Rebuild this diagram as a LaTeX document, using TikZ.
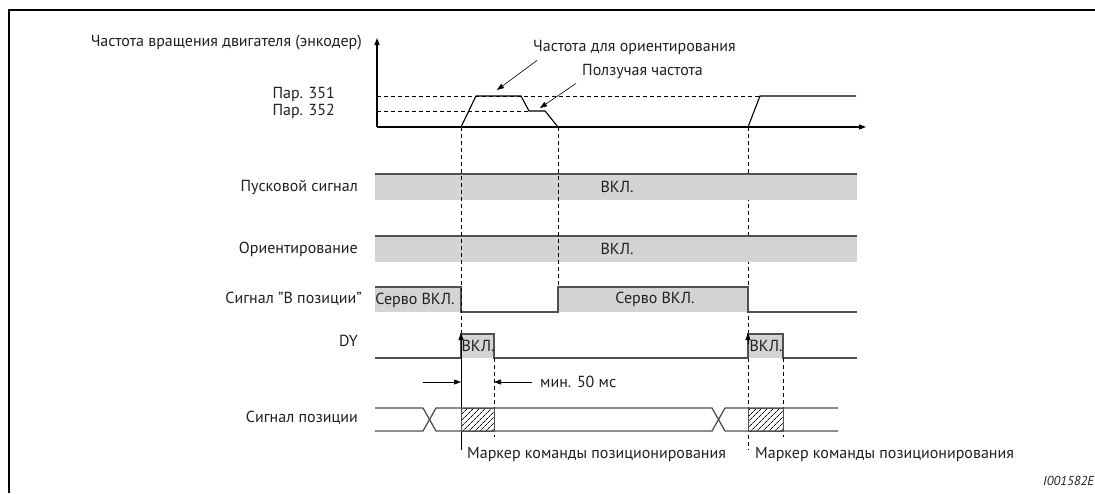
\documentclass[tikz,border=0pt]{standalone}
\usepackage{fontspec}
\setmainfont{PT Sans}
\usetikzlibrary{arrows.meta,patterns.meta,positioning,calc}
\definecolor{barfill}{HTML}{D3D4D5}
\definecolor{sigline}{HTML}{505050}
\definecolor{txt}{HTML}{231F20}

\begin{document}
\begin{tikzpicture}[x=1pt,y=-1pt,font=\fontsize{16}{19}\selectfont,>={Triangle[length=7pt,width=5pt]}]
\tikzset{lab/.style={anchor=east,inner sep=0pt,text=txt}, note/.style={anchor=west,inner sep=0pt,text=txt}, mid/.style={inner sep=0pt,text=txt}, sig/.style={draw=sigline,line width=1.3pt}, curve/.style={draw=black,line width=1.1pt}, guide/.style={line width=0.6pt,dash pattern=on 4pt off 3pt}, hatch/.style={pattern={Lines[angle=45,distance=4pt,line width=0.8pt]}}}
\useasboundingbox (0,0) rectangle (1095,493);
% frame
\draw[line width=2.2pt] (9,493) -- (9,10) -- (1095,10);
% speed axis
\coordinate (o) at (377,127);
\coordinate (ytip) at (377,38);
\coordinate (xtip) at (866,127);
\draw[curve,->] (o) -- (ytip);
\draw[curve,->] (o) -- (xtip);
\node[lab] (ax) at (362,43) {Частота вращения двигателя (энкодер)};
\node[lab] (p351) at (335,94) {Пар. 351};
\node[lab] (p352) at (335,111) {Пар. 352};
\draw[guide] (377,96) -- (760,96);
\draw[guide] (377,111) -- (529,111);
\draw[curve] (461,127) -- (476,96) -- (521,96) -- (529,111) -- (545,111) -- (558,127);
\draw[curve] (748,127) -- (760,96) -- (856,96);
\node[lab] (orient) at (736,47) {Частота для ориентирования};
\node[note] (creep) at (582,72) {Ползучая частота};
\coordinate (top1) at (497,90);
\coordinate (top2) at (540,108);
\draw[line width=0.6pt,->] ($(orient.south west)+(4,6)$) -- (top1);
\draw[line width=0.6pt,->] ($(creep.south west)+(-6,4)$) -- (top2);
% guide hidden behind the bars
\draw[guide] (748,127) -- (748,450);
% start and orientation bars
\foreach \y/\n in {174/run,236/ori}{\fill[barfill] (375,\y) rectangle (857,\y+26); \draw[sig] (375,\y) -- (857,\y); \node[mid] (\n) at (617,\y+13) {ВКЛ.};}
\node[lab] (lrun) at (358,188) {Пусковой сигнал};
\node[lab] (lori) at (358,249) {Ориентирование};
% in-position signal
\fill[barfill] (375,287) rectangle (461,312);
\fill[barfill] (558,287) rectangle (748,312);
\draw[sig] (375,287) -- (461,287) -- (461,312) -- (558,312) -- (558,287) -- (748,287) -- (748,312) -- (857,312);
\node[mid] (srv1) at (415,300) {Серво ВКЛ.};
\node[mid] (srv2) at (655,299) {Серво ВКЛ.};
\node[lab] (lpos) at (362,299) {Сигнал "В позиции"};
% guides over the bars
\draw[guide] (461,127) -- (461,334);
\draw[guide] (558,127) -- (558,287);
% DY
\fill[barfill] (461,334) rectangle (494,358);
\fill[barfill] (748,334) rectangle (783,358);
\draw[sig] (375,358) -- (461,358) -- (461,334) -- (494,334) -- (494,358) -- (748,358) -- (748,334) -- (783,334) -- (783,358) -- (857,358);
\node[mid] (on1) at (478,346) {ВКЛ.};
\node[mid] (on2) at (766,346) {ВКЛ.};
\node[lab] (ldy) at (358,341) {DY};
\draw[guide] (494,358) -- (494,437);
\draw[guide] (783,358) -- (783,437);
% markers
\coordinate (mk1) at (461,450);
\coordinate (mk1t) at (461,333);
\coordinate (mk2) at (748,344);
\coordinate (mk2t) at (748,333);
\draw[line width=0.9pt,->] (mk1) -- (mk1t);
\draw[line width=0.9pt,->] (mk2) -- (mk2t);
% min. 50 ms
\coordinate (dl) at (423,382);
\coordinate (dr) at (532,382);
\draw[line width=0.6pt,->] (dl) -- (mk1 |- dl);
\draw[line width=0.6pt,->] (dr) -- (494,382);
\node[note] (dt) at (540,382) {мин. 50 мс};
% position signal
\fill[white,hatch] (461,408) rectangle (494,431);
\fill[white,hatch] (748,408) rectangle (783,431);
\draw[sig,line width=0.6pt] (461,408) rectangle (494,431) (748,408) rectangle (783,431);
\draw[sig] (375,408) -- (423,408) -- (436,431) -- (712,431) -- (725,408) -- (838,408);
\draw[sig] (375,431) -- (423,431) -- (436,408) -- (712,408) -- (725,431) -- (838,431);
\node[lab] (lsig) at (358,418) {Сигнал позиции};
\node[note] (mt1) at (467,454) {Маркер команды позиционирования};
\node[note] (mt2) at (755,454) {Маркер команды позиционирования};
\node[note,font=\fontsize{13}{15}\selectfont\itshape] (id) at (1043,481) {I001582E};
\end{tikzpicture}
\end{document}
